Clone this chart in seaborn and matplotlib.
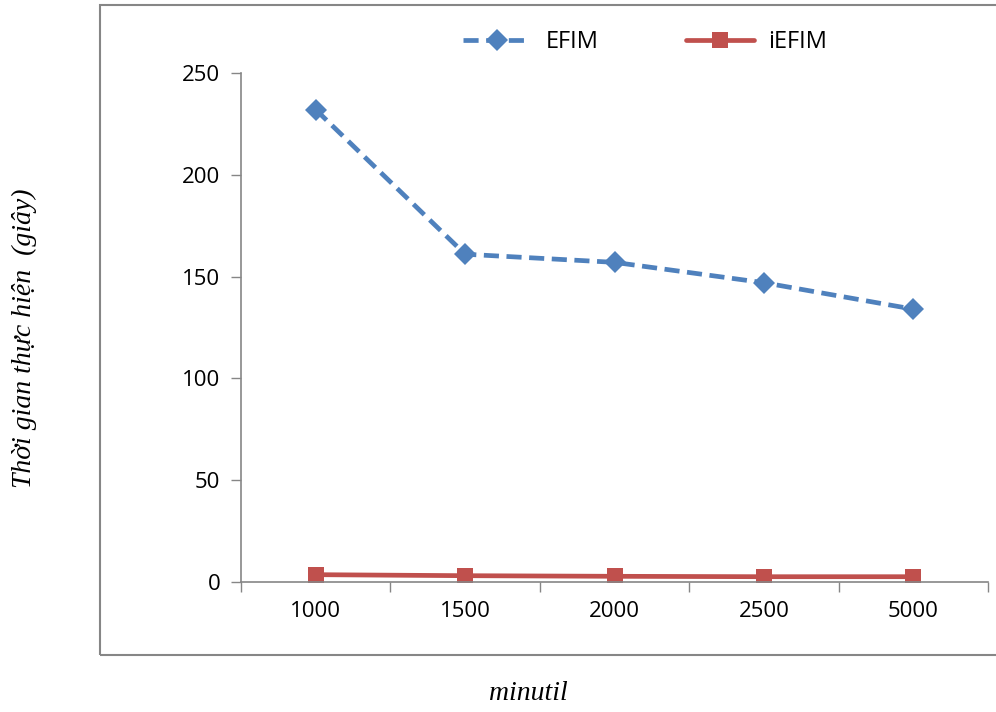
import matplotlib
matplotlib.use("Agg")
import matplotlib.pyplot as plt
import seaborn as sns
import pandas as pd
from matplotlib.patches import Rectangle

categories = ["1000", "1500", "2000", "2500", "5000"]
efim = [232, 161, 157, 147, 134]
iefim = [3.6, 3.1, 2.8, 2.6, 2.6]
yticks = [0, 50, 100, 150, 200, 250]

sns.set_theme(style="white")
plt.rcParams['font.family'] = ['Open Sans', 'DejaVu Sans']

df = pd.DataFrame({"minutil": categories * 2,
                   "time": efim + iefim,
                   "series": ["EFIM"] * 5 + ["iEFIM"] * 5})

fig = plt.figure(figsize=(9.96, 7.12), dpi=100)
ax = fig.add_axes([241/996, 1-582/712, (988-241)/996, (582-73)/712])

blue = "#4F81BD"
red = "#C0504D"
sns.lineplot(data=df[df.series == "EFIM"], x="minutil", y="time", ax=ax,
             color=blue, lw=3.4, marker="D", markersize=11, markeredgewidth=0,
             dashes=False, label="EFIM", sort=False)
ax.lines[-1].set_dashes([3.2, 1.6])
sns.lineplot(data=df[df.series == "iEFIM"], x="minutil", y="time", ax=ax,
             color=red, lw=3.4, marker="s", markersize=12, markeredgewidth=0,
             label="iEFIM", sort=False)

ax.set_xlim(-0.5, 4.5)
ax.set_ylim(0, 250)
ax.set_yticks(yticks)
ax.set_yticklabels([str(v) for v in yticks], fontsize=16, color="black")
ax.set_xticks(range(len(categories)))
ax.set_xticklabels(categories, fontsize=16, color="black")
ax.set_xticks([i - 0.5 for i in range(len(categories) + 1)], minor=True)
ax.tick_params(axis="x", which="major", length=0, pad=14)
ax.tick_params(axis="x", which="minor", length=7, width=1, color="#868686", direction="out", bottom=True)
ax.tick_params(axis="y", which="major", length=7, width=1, color="#868686", direction="out", left=True, pad=8)
ax.set_xlabel("")
ax.set_ylabel("")
for s in ["top", "right"]:
    ax.spines[s].set_visible(False)
for s in ["left", "bottom"]:
    ax.spines[s].set_color("#868686")
    ax.spines[s].set_linewidth(1.2)

leg = ax.legend(loc="center", bbox_to_anchor=(0.541, 1.061), ncol=2, frameon=False,
                fontsize=17, handlelength=2.9, columnspacing=3.7, handletextpad=0.6,
                borderpad=0, borderaxespad=0)
for t in leg.get_texts():
    t.set_color("black")

fig.patches.append(Rectangle((100/996, 1-655/712), 1.0, 650/712, transform=fig.transFigure,
                             fill=False, edgecolor="#868686", lw=1.5))

fig.text(24/996, 1-338/712, "Thời gian thực hiện  (giây)", rotation=90, ha="center", va="center",
         fontsize=20, style="italic", color="black", family=["Liberation Serif", "DejaVu Serif"])
fig.text(528/996, 1-693/712, "minutil", ha="center", va="center",
         fontsize=20, style="italic", color="black", family=["Liberation Serif", "DejaVu Serif"])

fig.savefig("out.png", dpi=100)
